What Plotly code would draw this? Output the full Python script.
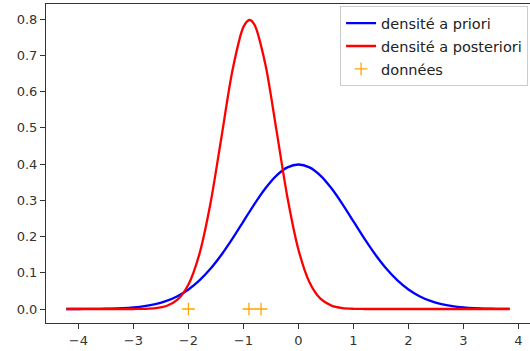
import plotly.graph_objects as go

# x grid used for both densities
x_grid = [-4.22, -4.0, -3.8, -3.6, -3.4, -3.2, -3.0, -2.8, -2.6, -2.4, -2.2, -2.0,
          -1.8, -1.6, -1.4, -1.2, -1.0, -0.89, -0.8, -0.6, -0.4, -0.2, 0.0,
          0.2, 0.4, 0.6, 0.8, 1.0, 1.2, 1.4, 1.6, 1.8, 2.0, 2.2, 2.4, 2.6,
          2.8, 3.0, 3.2, 3.4, 3.6, 3.84]

# densité a priori
prior_density = [0.0001, 0.0001, 0.0003, 0.0006, 0.0012, 0.0024, 0.0044, 0.0079, 0.0136, 0.0224, 0.0355, 0.0540,
                 0.0790, 0.1109, 0.1497, 0.1942, 0.2420, 0.2685, 0.2897, 0.3332, 0.3683, 0.3910, 0.3989,
                 0.3910, 0.3683, 0.3332, 0.2897, 0.2420, 0.1942, 0.1497, 0.1109, 0.0790, 0.0540, 0.0355, 0.0224, 0.0136,
                 0.0079, 0.0044, 0.0024, 0.0012, 0.0006, 0.0003]

# densité a posteriori
posterior_density = [0.0, 0.0, 0.0, 0.0, 0.0, 0.00002, 0.00011, 0.00054, 0.0023, 0.0083, 0.0258, 0.0679,
                     0.1523, 0.2912, 0.4743, 0.6583, 0.7788, 0.7979, 0.7850, 0.6744, 0.4937, 0.3079, 0.1637,
                     0.0741, 0.0286, 0.0094, 0.0026, 0.0006, 0.0001, 0.0, 0.0, 0.0, 0.0, 0.0, 0.0, 0.0,
                     0.0, 0.0, 0.0, 0.0, 0.0, 0.0]

# données
data_x = [-2.0, -0.9, -0.68]
data_y = [0.0, 0.0, 0.0]

x_ticks = [-4, -3, -2, -1, 0, 1, 2, 3, 4]
x_ticklabels = ["\u22124", "\u22123", "\u22122", "\u22121", "0", "1", "2", "3", "4"]
y_ticks = [0, 0.1, 0.2, 0.3, 0.4, 0.5, 0.6, 0.7, 0.8]

fig = go.Figure()
fig.add_trace(go.Scatter(x=x_grid, y=prior_density, mode="lines", name="densité a priori",
                         legendgroup="g1",
                         line=dict(color="blue", width=2.3, shape="spline", smoothing=0.8)))
fig.add_trace(go.Scatter(x=x_grid, y=posterior_density, mode="lines", name="densité a posteriori",
                         legendgroup="g2",
                         line=dict(color="red", width=2.3, shape="spline", smoothing=0.8)))
fig.add_trace(go.Scatter(x=data_x, y=data_y, mode="markers", name="données",
                         legendgroup="g3",
                         marker=dict(symbol="cross-thin", size=9, color="orange",
                                     line=dict(color="orange", width=1.3))))

tick_font = dict(family="DejaVu Sans", size=13, color="#333")

fig.update_layout(
    width=530, height=351,
    margin=dict(l=46, r=0, t=4, b=28),
    paper_bgcolor="white", plot_bgcolor="white",
    xaxis=dict(range=[-4.59, 4.21], tickvals=x_ticks, ticktext=x_ticklabels,
               showline=True, mirror=True, linecolor="#333", linewidth=1,
               ticks="outside", ticklen=5, tickcolor="#333", showgrid=False, zeroline=False,
               tickfont=tick_font, automargin=False),
    yaxis=dict(range=[-0.0386, 0.842], tickvals=y_ticks, tickformat=".1f",
               showline=True, mirror=False, linecolor="#333", linewidth=1,
               ticks="outside", ticklen=5, tickcolor="#333", showgrid=False, zeroline=False,
               tickfont=tick_font, automargin=False),
    legend=dict(x=0.996, y=0.993, xanchor="right", yanchor="top",
                bgcolor="white", bordercolor="#ccc", borderwidth=1,
                font=dict(family="DejaVu Sans", size=14.5, color="#222"),
                tracegroupgap=1),
    showlegend=True,
)

fig.write_html("out.html",
               config={"displayModeBar": False},
               post_script="document.body.style.margin='0';document.documentElement.style.overflow='hidden';")
